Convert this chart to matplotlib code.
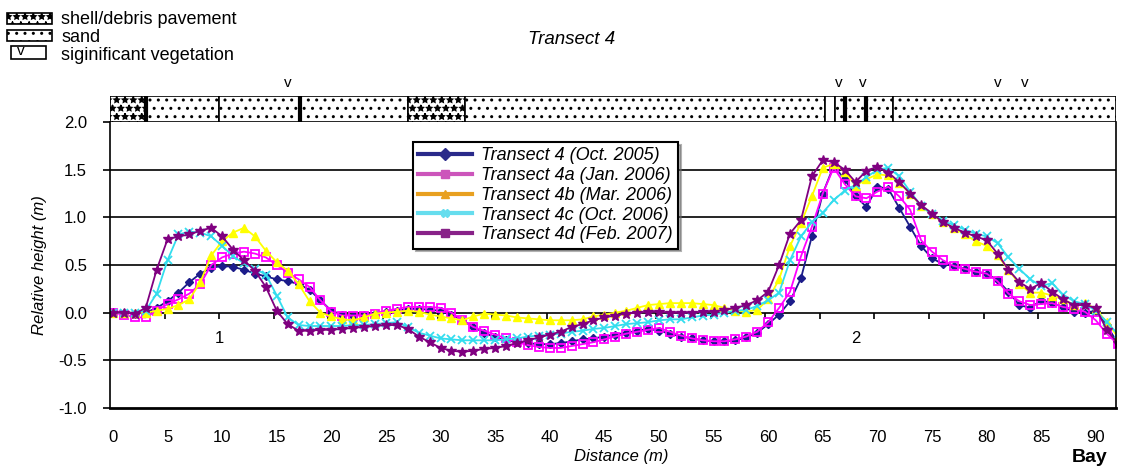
"""Transect 4 relative height profiles with surface-type strip."""

import matplotlib
matplotlib.use("Agg")
import matplotlib.pyplot as plt
from matplotlib.lines import Line2D
from matplotlib.patches import Rectangle
import numpy as np

plt.rcParams["font.family"] = ["Liberation Sans", "DejaVu Sans"]
plt.rcParams["hatch.linewidth"] = 1.0

# distance along transect (m), one reading per metre
distance = list(range(0, 93))

t4_oct2005 = [
    0.00, 0.00, -0.01, 0.00, 0.05, 0.12, 0.21, 0.32, 0.41, 0.47,
    0.49, 0.48, 0.45, 0.41, 0.38, 0.35, 0.33, 0.30, 0.24, 0.13,
    0.02, -0.02, -0.03, -0.02, -0.01, 0.01, 0.02, 0.04, 0.04, 0.03,
    0.02, -0.02, -0.08, -0.15, -0.21, -0.26, -0.29, -0.31, -0.32, -0.33,
    -0.33, -0.32, -0.30, -0.28, -0.27, -0.25, -0.23, -0.21, -0.19, -0.17,
    -0.19, -0.22, -0.25, -0.27, -0.29, -0.30, -0.30, -0.29, -0.26, -0.21,
    -0.12, -0.02, 0.12, 0.36, 0.80, 1.25, 1.54, 1.40, 1.22, 1.11,
    1.32, 1.30, 1.10, 0.90, 0.70, 0.57, 0.51, 0.49, 0.46, 0.43,
    0.41, 0.34, 0.22, 0.08, 0.05, 0.13, 0.10, 0.06, 0.01, 0.00,
    0.02, -0.13, -0.32,
]
t4a_jan2006 = [
    0.00, -0.02, -0.05, -0.05, 0.02, 0.09, 0.14, 0.20, 0.30, 0.50,
    0.58, 0.62, 0.64, 0.62, 0.58, 0.50, 0.42, 0.35, 0.27, 0.13,
    0.01, -0.03, -0.03, -0.03, -0.01, 0.02, 0.04, 0.06, 0.06, 0.06,
    0.05, 0.00, -0.08, -0.15, -0.19, -0.23, -0.27, -0.31, -0.34, -0.36,
    -0.37, -0.37, -0.35, -0.33, -0.31, -0.28, -0.25, -0.22, -0.20, -0.18,
    -0.16, -0.20, -0.24, -0.27, -0.29, -0.30, -0.30, -0.28, -0.25, -0.20,
    -0.10, 0.05, 0.22, 0.59, 0.90, 1.25, 1.52, 1.35, 1.22, 1.20,
    1.27, 1.32, 1.22, 1.08, 0.76, 0.64, 0.55, 0.49, 0.46, 0.43,
    0.41, 0.33, 0.20, 0.12, 0.08, 0.09, 0.10, 0.06, 0.04, 0.01,
    -0.08, -0.22, -0.33,
]
t4b_mar2006 = [
    0.00, 0.00, 0.00, 0.00, 0.02, 0.04, 0.08, 0.14, 0.32, 0.60,
    0.75, 0.84, 0.89, 0.80, 0.65, 0.53, 0.44, 0.30, 0.12, 0.00,
    -0.04, -0.07, -0.08, -0.05, -0.01, 0.00, 0.01, 0.02, 0.01, -0.02,
    -0.04, -0.06, -0.08, -0.04, -0.01, -0.02, -0.03, -0.05, -0.06, -0.07,
    -0.08, -0.08, -0.08, -0.07, -0.04, -0.02, 0.00, 0.02, 0.05, 0.08,
    0.09, 0.10, 0.10, 0.10, 0.09, 0.08, 0.05, 0.02, 0.01, 0.03,
    0.14, 0.35, 0.70, 0.94, 1.22, 1.52, 1.56, 1.48, 1.33, 1.40,
    1.45, 1.44, 1.36, 1.25, 1.12, 1.03, 0.95, 0.89, 0.82, 0.75,
    0.70, 0.60, 0.45, 0.30, 0.21, 0.21, 0.18, 0.14, 0.08, 0.10,
    0.04, -0.10, -0.25,
]
t4c_oct2006 = [
    0.00, 0.00, 0.00, 0.02, 0.20, 0.55, 0.82, 0.85, 0.84, 0.80,
    0.70, 0.59, 0.52, 0.46, 0.40, 0.18, -0.05, -0.13, -0.14, -0.14,
    -0.14, -0.14, -0.13, -0.13, -0.12, -0.11, -0.10, -0.15, -0.21, -0.24,
    -0.27, -0.28, -0.29, -0.29, -0.29, -0.29, -0.28, -0.27, -0.25, -0.24,
    -0.23, -0.22, -0.20, -0.19, -0.17, -0.16, -0.14, -0.12, -0.11, -0.10,
    -0.08, -0.07, -0.07, -0.05, -0.03, -0.02, 0.00, 0.02, 0.03, 0.07,
    0.13, 0.21, 0.55, 0.80, 0.95, 1.05, 1.18, 1.28, 1.34, 1.42,
    1.50, 1.52, 1.43, 1.27, 1.12, 1.03, 0.96, 0.92, 0.87, 0.83,
    0.80, 0.73, 0.58, 0.46, 0.35, 0.28, 0.31, 0.19, 0.12, 0.09,
    0.02, -0.10, -0.22,
]
t4d_feb2007 = [
    0.00, 0.00, -0.01, 0.05, 0.45, 0.77, 0.80, 0.82, 0.86, 0.89,
    0.80, 0.66, 0.55, 0.44, 0.27, 0.02, -0.12, -0.19, -0.19, -0.18,
    -0.18, -0.17, -0.16, -0.15, -0.14, -0.13, -0.13, -0.17, -0.25, -0.31,
    -0.37, -0.40, -0.41, -0.40, -0.38, -0.37, -0.35, -0.32, -0.29, -0.26,
    -0.23, -0.20, -0.15, -0.12, -0.08, -0.05, -0.03, -0.01, 0.00, 0.01,
    0.01, 0.00, 0.00, 0.00, 0.01, 0.01, 0.03, 0.05, 0.08, 0.13,
    0.22, 0.50, 0.83, 0.97, 1.43, 1.60, 1.58, 1.50, 1.37, 1.49,
    1.53, 1.47, 1.37, 1.25, 1.13, 1.04, 0.95, 0.89, 0.84, 0.80,
    0.76, 0.62, 0.45, 0.32, 0.25, 0.31, 0.22, 0.14, 0.08, 0.08,
    0.05, -0.18, -0.32,
]

series_labels = [
    "Transect 4 (Oct. 2005)",
    "Transect 4a (Jan. 2006)",
    "Transect 4b (Mar. 2006)",
    "Transect 4c (Oct. 2006)",
    "Transect 4d (Feb. 2007)",
]

# surface strip: (start, end, type)
strip_segments = [
    (-0.3, 3.0, "shell"), (3.0, 9.7, "sand"), (9.7, 17.1, "sand"),
    (17.1, 27.0, "sand"), (27.0, 32.2, "shell"), (32.2, 65.2, "sand"),
    (65.2, 66.1, "blank"), (66.1, 67.0, "sand"), (67.0, 69.0, "sand"),
    (69.0, 71.4, "sand"), (71.4, 91.85, "sand"),
]
thick_boundaries = [3.0, 17.1, 67.0, 69.0]
vegetation_at = [16.0, 66.5, 68.7, 81.0, 83.5]
section_labels = [(9.7, "1"), (68.0, "2")]

W, H = 1121, 471
fig = plt.figure(figsize=(W / 100, H / 100), dpi=100)
ax = fig.add_axes([110 / W, 1 - 408 / H, 1006 / W, 286 / H])
strip = fig.add_axes([110 / W, 1 - 122 / H, 1006 / W, 26 / H], sharex=ax)

styles = [
    dict(color="#1c1c8a", marker="D", markersize=3.6, mfc="#1c1c8a"),
    dict(color="#ff00ff", marker="s", markersize=5.5, mfc="none", mew=1.3),
    dict(color="#ffff00", marker="^", markersize=6, mfc="#ffff00"),
    dict(color="#33ddee", marker="x", markersize=5.5, mew=1.3),
    dict(color="#800080", marker="*", markersize=7, mfc="#800080"),
]
for values, style in zip(
    [t4_oct2005, t4a_jan2006, t4b_mar2006, t4c_oct2006, t4d_feb2007], styles
):
    ax.plot(distance, values, linewidth=1.3, **style)

ax.set_xlim(-0.27, 91.85)
ax.set_ylim(-1.0, 2.0)
ax.set_yticks(np.arange(-1.0, 2.01, 0.5))
ax.set_yticklabels([f"{v:.1f}" for v in np.arange(-1.0, 2.01, 0.5)])
ax.set_xticks(np.arange(0, 91, 5))
for y in np.arange(-0.5, 1.51, 0.5):
    ax.axhline(y, color="black", linewidth=1.2, zorder=0.5)
# section axis ticks along the zero line
ax.vlines(np.arange(5, 91, 5) - 0.27, -0.07, 0, color="black", linewidth=1.2, zorder=0.6)
for x, label in section_labels:
    ax.text(x, -0.27, label, ha="center", va="center", fontsize=12)

ax.tick_params(axis="x", length=0, pad=16, labelsize=12)
ax.tick_params(axis="y", length=5, width=1.2, pad=11.5, labelsize=12)
ax.spines["top"].set_visible(False)
ax.spines["bottom"].set_linewidth(2)
ax.spines["left"].set_linewidth(1.2)
ax.spines["right"].set_linewidth(1.2)
ax.set_ylabel("Relative height (m)", fontsize=12, style="italic")
ax.yaxis.set_label_coords(-0.063, 0.5)
ax.set_xlabel("Distance (m)", fontsize=12, style="italic")
ax.xaxis.set_label_coords(0.508, -0.145)

legend_colors = ["#2a2a8a", "#cc55bb", "#e8a020", "#66ddee", "#882288"]
legend_markers = ["D", "s", "^", "X", "s"]
handles = [
    Line2D([], [], color=c, marker=m, markersize=6, linewidth=3)
    for c, m in zip(legend_colors, legend_markers)
]
leg = ax.legend(
    handles, series_labels, loc="upper left", bbox_to_anchor=(0.301, 0.93),
    prop={"style": "italic", "size": 13}, handlelength=3, handletextpad=0.5,
    labelspacing=0.15, borderpad=0.3, borderaxespad=0, fancybox=False,
    framealpha=1, edgecolor="black", shadow={"color": "0.4", "ox": 2, "oy": -2},
)
leg.get_frame().set_linewidth(1.5)

hatches = {"shell": "**", "sand": "..", "blank": None}
for x0, x1, kind in strip_segments:
    strip.add_patch(Rectangle((x0, 0), x1 - x0, 1, facecolor="white",
                              edgecolor="black", linewidth=1.2, hatch=hatches[kind]))
for x in thick_boundaries:
    strip.axvline(x, color="black", linewidth=3)
for x in vegetation_at:
    strip.text(x, 1.5, "v", ha="center", va="center", fontsize=11)
strip.set_ylim(0, 1)
strip.axis("off")

fig.text(572 / W, 1 - 40 / H, "Transect 4", ha="center", va="center",
         fontsize=13.5, style="italic")
fig.text(1090 / W, 1 - 457 / H, "Bay", ha="center", va="center",
         fontsize=14, weight="bold")

key_rows = [
    ((7, 13, 45, 11), "**", "shell/debris pavement", 19),
    ((7, 30, 45, 11), "..", "sand", 37),
    ((11, 46, 35, 13), None, "siginificant vegetation", 55),
]
for (x0, y0, w, h), hatch, label, ty in key_rows:
    fig.add_artist(Rectangle((x0 / W, 1 - (y0 + h) / H), w / W, h / H,
                             transform=fig.transFigure, facecolor="white",
                             edgecolor="black", linewidth=1.2, hatch=hatch))
    fig.text(61 / W, 1 - ty / H, label, ha="left", va="center", fontsize=13)
fig.text(21 / W, 1 - 51 / H, "v", ha="center", va="center", fontsize=11)

fig.savefig("out.png", dpi=100)
